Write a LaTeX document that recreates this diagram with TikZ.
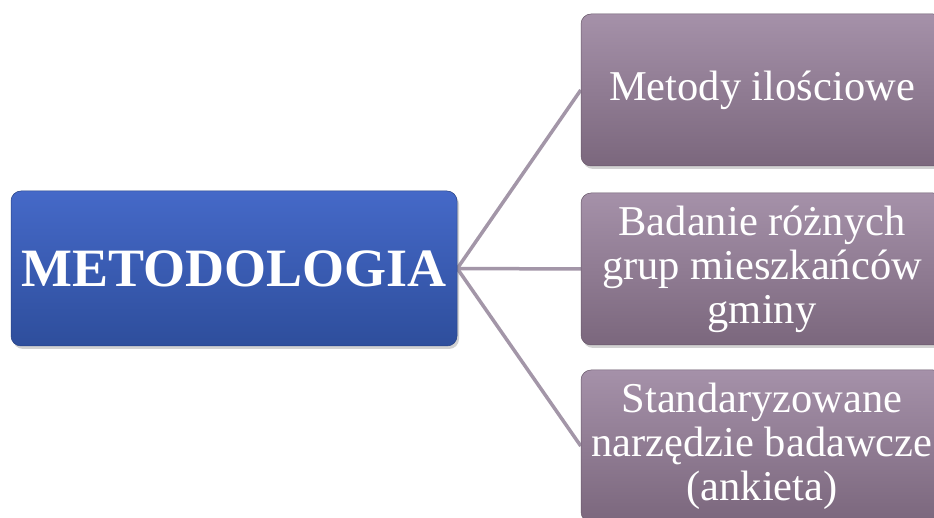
\documentclass[tikz,border=0pt]{standalone}
\usepackage{fontspec}
\setmainfont{Liberation Serif}
\usetikzlibrary{shadows,backgrounds}
\definecolor{bluetop}{HTML}{4569C8}
\definecolor{bluebot}{HTML}{2E4E9C}
\definecolor{purtop}{HTML}{A591A9}
\definecolor{purbot}{HTML}{7B677D}
\definecolor{linec}{HTML}{A396A8}
\begin{document}
\begin{tikzpicture}[x=1pt,y=-1pt,
  mainbox/.style={rectangle, rounded corners=10pt, minimum width=446pt, minimum height=155pt,
    top color=bluetop, bottom color=bluebot, draw=bluebot!85!black, line width=0.5pt,
    drop shadow={opacity=0.35, shadow xshift=2pt, shadow yshift=-3pt},
    text=white, font=\fontsize{54}{60}\selectfont\bfseries, inner sep=0pt},
  subbox/.style={rectangle, rounded corners=10pt, minimum width=362pt, minimum height=152pt,
    top color=purtop, bottom color=purbot, draw=purbot!85!black, line width=0.5pt,
    drop shadow={opacity=0.35, shadow xshift=2pt, shadow yshift=-3pt},
    text=white, font=\fontsize{42.5}{44}\selectfont, align=center, inner sep=0pt},
  conn/.style={draw=linec, line width=3.5pt}
]
\useasboundingbox (0,0) rectangle (934,518);
\clip (0,0) rectangle (934,518);
\node[mainbox] (m) at (234,268.5) {METODOLOGIA};
\node[subbox] (a) at (762,90) {Metody ilościowe};
\node[subbox] (b) at (762,269) {Badanie różnych\\grup mieszkańców\\gminy};
\node[subbox] (c) at (762,446) {Standaryzowane\\narzędzie badawcze\\(ankieta)};
\begin{scope}[on background layer]
\fill[white] (0,0) rectangle (934,518);
\draw[conn] (m.east) -- (a.west);
\draw[conn] (m.east) -- (b.west);
\draw[conn] (m.east) -- (c.west);
\end{scope}
\end{tikzpicture}
\end{document}
